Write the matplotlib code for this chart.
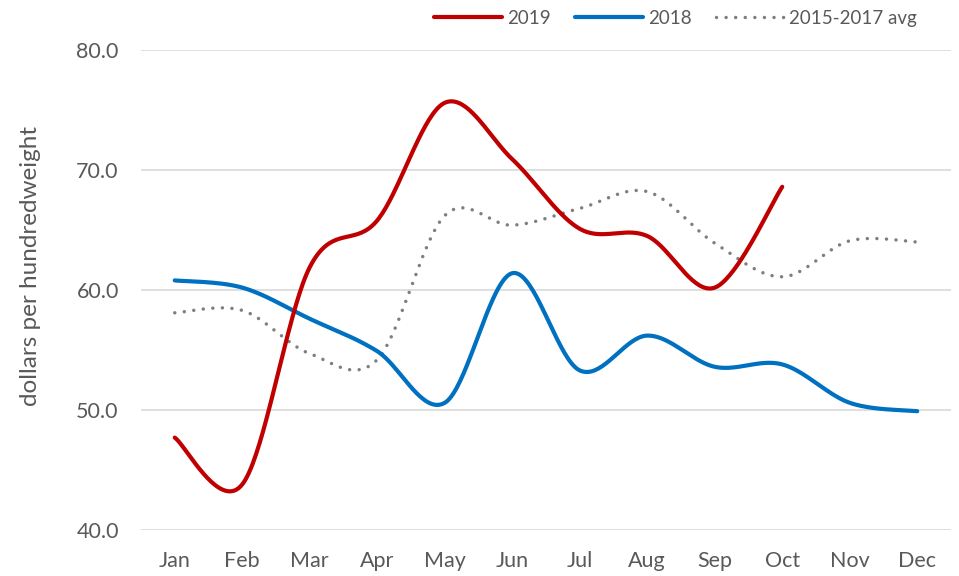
import numpy as np
import matplotlib
matplotlib.use("Agg")
import matplotlib.pyplot as plt

plt.rcParams["font.family"] = ["Lato", "DejaVu Sans"]

months = ["Jan", "Feb", "Mar", "Apr", "May", "Jun",
          "Jul", "Aug", "Sep", "Oct", "Nov", "Dec"]
price_2019 = [47.7, 43.8, 61.9, 65.8, 75.6, 70.9, 65.1, 64.5, 60.2, 68.6]
price_2018 = [60.8, 60.2, 57.6, 54.9, 50.6, 61.4, 53.3, 56.2, 53.6, 53.8, 50.6, 49.9]
price_avg = [58.1, 58.3, 54.7, 54.2, 66.2, 65.4, 66.8, 68.2, 63.9, 61.1, 64.1, 64.0]


def wygladz(y, kroki=40):
    """Krzywa jak w Excelu: odcinki Beziera, punkty kontrolne z sasiadow."""
    x = np.arange(len(y), dtype=float)
    y = np.asarray(y, dtype=float)
    pts = np.column_stack([x, y])
    wynik = []
    t = np.linspace(0, 1, kroki)[:, None]
    for i in range(len(pts) - 1):
        p0 = pts[max(i - 1, 0)]
        p1 = pts[i]
        p2 = pts[i + 1]
        p3 = pts[min(i + 2, len(pts) - 1)]
        c1 = p1 + (p2 - p0) / 6
        c2 = p2 - (p3 - p1) / 6
        seg = ((1 - t) ** 3) * p1 + 3 * ((1 - t) ** 2) * t * c1 \
            + 3 * (1 - t) * t ** 2 * c2 + t ** 3 * p2
        wynik.append(seg if i == 0 else seg[1:])
    wynik = np.vstack(wynik)
    return wynik[:, 0], wynik[:, 1]


fig = plt.figure(figsize=(9.59, 5.76), dpi=100)
ax = fig.add_axes([141 / 959, 1 - 530 / 576, 810 / 959, 480 / 576])

tekst = "#595959"
siatka = "#D9D9D9"

xs, ys = wygladz(price_avg)
ax.plot(xs, ys, color="#7F7F7F", lw=2.5, linestyle=(0, (0.01, 2.75)),
        dash_capstyle="round", label="2015-2017 avg", zorder=3)
xs, ys = wygladz(price_2018)
ax.plot(xs, ys, color="#0070C0", lw=3.0, solid_capstyle="round",
        label="2018", zorder=4)
xs, ys = wygladz(price_2019)
ax.plot(xs, ys, color="#C00000", lw=3.0, solid_capstyle="round",
        label="2019", zorder=5)

ax.set_xlim(-0.5, 11.5)
ax.set_ylim(40, 80)
ax.set_yticks([40, 50, 60, 70, 80])
ax.set_yticklabels([f"{v:.1f}" for v in [40, 50, 60, 70, 80]])
ax.set_xticks(range(len(months)))
ax.set_xticklabels(months)
ax.grid(axis="y", color=siatka, lw=1.2)
ax.set_axisbelow(True)
for s in ax.spines.values():
    s.set_visible(False)
ax.tick_params(axis="both", length=0, colors=tekst, labelsize=15.5)
ax.tick_params(axis="y", pad=16)
ax.tick_params(axis="x", pad=15)
ax.set_ylabel("dollars per hundredweight", color=tekst, fontsize=17.5)
ax.yaxis.set_label_coords(-0.124, 0.55)

uchwyty, etykiety = ax.get_legend_handles_labels()
kolej = [2, 1, 0]
leg = fig.legend([uchwyty[i] for i in kolej], [etykiety[i] for i in kolej],
                 loc="upper right", bbox_to_anchor=(0.974, 1.012), ncol=3,
                 frameon=False, fontsize=13.5, handlelength=3.6,
                 columnspacing=1.3, handletextpad=0.3)
for t in leg.get_texts():
    t.set_color(tekst)

fig.savefig("out.png", dpi=100)
